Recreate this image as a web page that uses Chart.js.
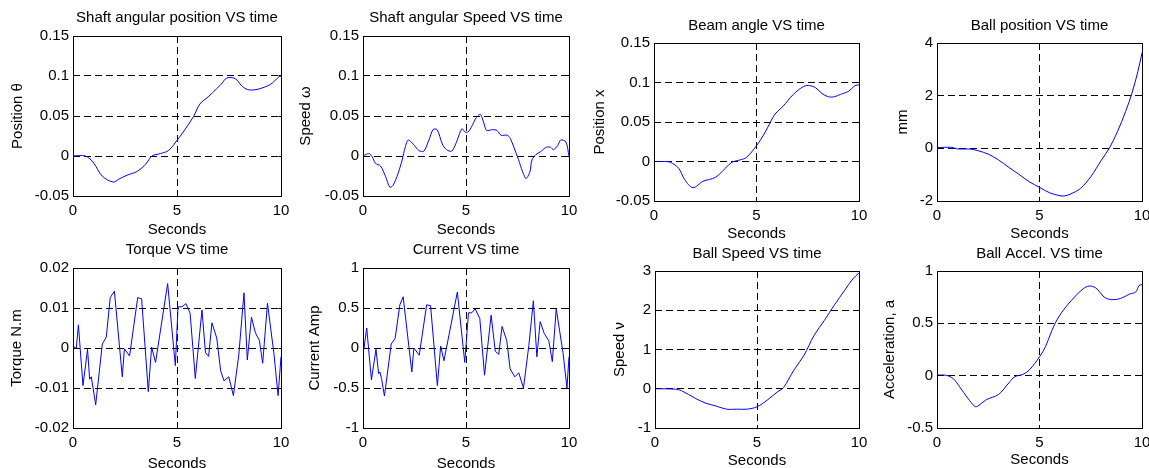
<!DOCTYPE html>
<html>
<head>
<meta charset="utf-8">
<script src="https://cdn.jsdelivr.net/npm/chart.js@4/dist/chart.umd.min.js"></script>
<style>
  html, body { margin: 0; padding: 0; background: #fff; overflow: hidden; }
  body { position: relative; width: 1149px; height: 468px; }
  canvas { position: absolute; }
</style>
</head>
<body>
<script>
// ---- data ----
const shaftPosT = [0, 0.6, 1.0, 1.4, 1.93, 2.2, 2.6, 3.1, 3.5, 3.8, 4.2, 4.6, 5.0, 5.3, 5.8, 6.1, 6.5, 6.9, 7.1, 7.4, 7.8, 8.1, 8.4, 8.8, 9.2, 9.5, 9.7, 9.9, 10];
const shaftPos = [0, 0, -0.009, -0.025, -0.0325, -0.029, -0.024, -0.019, -0.01, 0, 0.003, 0.007, 0.0196, 0.03, 0.0496, 0.065, 0.074, 0.084, 0.089, 0.0975, 0.0967, 0.088, 0.083, 0.083, 0.086, 0.0896, 0.094, 0.099, 0.1];

const shaftSpeedT = [0, 0.15, 0.3, 0.45, 0.6, 0.85, 1.1, 1.3, 1.45, 1.7, 1.9, 2.05, 2.2, 2.5, 2.7, 2.95, 3.2, 3.4, 3.6, 3.85, 4.05, 4.3, 4.5, 4.8, 4.95, 5.1, 5.3, 5.5, 5.7, 5.85, 6.0, 6.3, 6.5, 6.7, 7.0, 7.15, 7.5, 7.9, 8.1, 8.2, 8.4, 8.6, 8.9, 9.1, 9.25, 9.45, 9.6, 9.85, 10];
const shaftSpeed = [0, 0.002, 0.003, -0.001, -0.009, -0.0125, -0.026, -0.039, -0.037, -0.022, -0.005, 0.011, 0.02, 0.013, 0.007, 0.006, 0.02, 0.033, 0.033, 0.015, 0.008, 0.006, 0.015, 0.034, 0.03, 0.03, 0.038, 0.048, 0.052, 0.0425, 0.032, 0.033, 0.032, 0.026, 0.026, 0.022, -0.001, -0.028, -0.02, -0.005, 0.002, 0.005, 0.011, 0.011, 0.008, 0.013, 0.02, 0.0175, 0];

const beamT = [0, 0.5, 0.8, 1.2, 1.5, 1.9, 2.4, 3.0, 3.5, 3.8, 4.2, 4.5, 5.0, 5.4, 5.7, 5.9, 6.3, 6.8, 7.3, 7.6, 7.9, 8.2, 8.5, 8.8, 9.1, 9.5, 9.8, 10];
const beamAngle = [0, 0, -0.001, -0.0085, -0.023, -0.033, -0.025, -0.02, -0.008, -0.001, 0.002, 0.005, 0.02, 0.036, 0.051, 0.06, 0.07, 0.085, 0.095, 0.096, 0.093, 0.086, 0.082, 0.082, 0.085, 0.089, 0.096, 0.097];

const ballPosT = [0, 0.7, 1.0, 1.6, 2.0, 2.5, 3.0, 3.5, 4.0, 4.5, 5.0, 5.5, 6.0, 6.2, 6.5, 7.0, 7.5, 8.0, 8.4, 8.8, 9.2, 9.5, 9.8, 10];
const ballPos = [0.025, 0.04, -0.025, -0.025, -0.09, -0.22, -0.44, -0.72, -0.99, -1.27, -1.48, -1.69, -1.8, -1.81, -1.74, -1.52, -1.08, -0.47, 0, 0.63, 1.4, 2.07, 2.92, 3.62];

const torqueT = [0, 0.06, 0.16, 0.26, 0.48, 0.7, 0.8, 0.88, 1.09, 1.41, 1.6, 1.79, 1.99, 2.37, 2.47, 2.72, 3.11, 3.3, 3.62, 3.78, 3.97, 4.55, 4.92, 5.05, 5.24, 5.43, 5.63, 5.88, 6.2, 6.37, 6.52, 6.68, 6.91, 7.1, 7.26, 7.49, 7.71, 7.97, 8.22, 8.38, 8.58, 8.77, 8.96, 9.12, 9.35, 9.66, 9.86, 10];
const torque = [0.001, 0, 0, 0.0058, -0.0094, -0.0003, -0.0078, -0.0072, -0.0142, 0.001, 0.0027, 0.0126, 0.0142, -0.0072, -0.0002, -0.002, 0.0126, 0.0123, -0.0109, 0.0002, -0.0036, 0.0161, -0.0044, 0.0103, 0.0103, 0.0111, 0.0087, -0.0076, 0.0095, -0.0012, -0.0021, 0.0063, 0.0025, -0.0057, -0.0082, -0.0072, -0.0119, -0.0018, 0.0138, -0.003, 0.0077, 0.0038, 0.0019, -0.0038, 0.0112, -0.0014, -0.0119, -0.0022];

const currentT = [0, 0.05, 0.18, 0.41, 0.63, 0.76, 0.82, 0.9, 1.04, 1.37, 1.56, 1.79, 1.95, 2.37, 2.47, 2.73, 3.09, 3.28, 3.61, 3.77, 3.93, 4.58, 4.94, 5.12, 5.28, 5.44, 5.67, 5.9, 6.22, 6.42, 6.59, 6.75, 6.98, 7.14, 7.37, 7.56, 7.79, 8.05, 8.27, 8.44, 8.6, 8.8, 9.02, 9.19, 9.38, 9.71, 9.9, 10];
const current = [0.04, 0, 0.25, -0.4, -0.016, -0.32, -0.3, -0.38, -0.6, 0.05, 0.12, 0.54, 0.64, -0.3, 0, -0.09, 0.54, 0.53, -0.47, 0.025, -0.16, 0.7, -0.18, 0.44, 0.44, 0.49, 0.37, -0.34, 0.41, -0.04, -0.08, 0.27, 0.09, -0.26, -0.36, -0.31, -0.5, 0.03, 0.59, -0.11, 0.33, 0.18, 0.09, -0.17, 0.49, -0.06, -0.5, -0.11];

const ballSpeedT = [0, 1.0, 1.3, 2.0, 2.5, 3.0, 3.5, 4.0, 4.5, 5.0, 5.5, 6.0, 6.3, 6.8, 7.3, 7.8, 8.3, 8.8, 9.3, 9.7, 10];
const ballSpeed = [0, -0.01, -0.05, -0.25, -0.37, -0.44, -0.52, -0.52, -0.52, -0.46, -0.29, -0.08, 0.03, 0.47, 0.85, 1.36, 1.74, 2.14, 2.51, 2.8, 2.95];

const ballAccT = [0, 0.45, 0.8, 1.1, 1.5, 1.85, 2.0, 2.4, 3.0, 3.5, 3.8, 4.2, 4.5, 5.0, 5.3, 5.6, 5.9, 6.3, 6.8, 7.2, 7.5, 7.8, 8.1, 8.4, 8.8, 9.1, 9.4, 9.7, 9.85, 10];
const ballAcc = [0.006, 0.003, -0.03, -0.105, -0.215, -0.295, -0.29, -0.23, -0.18, -0.07, -0.01, 0.013, 0.054, 0.18, 0.28, 0.43, 0.55, 0.66, 0.77, 0.84, 0.856, 0.83, 0.76, 0.73, 0.73, 0.75, 0.78, 0.8, 0.86, 0.87];

const titles = ['Shaft angular position VS time', 'Shaft angular Speed VS time', 'Beam angle VS time', 'Ball position VS time',
                'Torque VS time', 'Current VS time', 'Ball Speed VS time', 'Ball Accel. VS time'];
const yLabels = ['Position \u03b8', 'Speed \u03c9', 'Position x', 'mm', 'Torque N.m', 'Current Amp', 'Speed \u03bd', 'Acceleration, a'];
const yRanges = [[-0.05, 0.15, 0.05], [-0.05, 0.15, 0.05], [-0.05, 0.15, 0.05], [-2, 4, 2],
                 [-0.02, 0.02, 0.01], [-1, 1, 0.5], [-1, 3, 1], [-0.5, 1, 0.5]];
const xLabel = 'Seconds';

// ---- layout of each subplot: plot box, title / label centres ----
const boxes = [
    { l: 73,  t: 36,  r: 281,  b: 196, titleY: 18,  ylabX: 18,  xlabY: 230 },
    { l: 363, t: 36,  r: 569,  b: 196, titleY: 18,  ylabX: 306, xlabY: 230 },
    { l: 654, t: 43,  r: 859,  b: 201, titleY: 26,  ylabX: 600, xlabY: 234 },
    { l: 937, t: 43,  r: 1142, b: 201, titleY: 26,  ylabX: 903, xlabY: 234 },
    { l: 73,  t: 268, r: 281,  b: 428, titleY: 250, ylabX: 17,  xlabY: 464 },
    { l: 363, t: 268, r: 569,  b: 428, titleY: 250, ylabX: 315, xlabY: 464 },
    { l: 655, t: 271, r: 859,  b: 428, titleY: 254, ylabX: 620, xlabY: 461 },
    { l: 937, t: 271, r: 1142, b: 428, titleY: 254, ylabX: 890, xlabY: 460 }
];

const series = [
    [shaftPosT, shaftPos, 0.35], [shaftSpeedT, shaftSpeed, 0.3], [beamT, beamAngle, 0.35], [ballPosT, ballPos, 0.35],
    [torqueT, torque, 0], [currentT, current, 0], [ballSpeedT, ballSpeed, 0.35], [ballAccT, ballAcc, 0.35]
];

const FONT = { family: '"Liberation Sans", Arial, Helvetica, sans-serif', size: 15, weight: 'normal' };
const LH = FONT.size * 1.2;

// MATLAB style: solid box round the axes, small inward ticks
const al = p => Math.round(p - 0.5) + 0.5;
const frameBox = {
    id: 'frameBox',
    afterDraw(chart) {
        const { ctx, chartArea: a, scales } = chart;
        const l = al(a.left), r = al(a.right), t = al(a.top), b = al(a.bottom);
        ctx.save();
        ctx.setLineDash([]);
        ctx.strokeStyle = '#000';
        ctx.lineWidth = 1;
        ctx.beginPath();
        scales.x.ticks.forEach(tk => {
            const px = al(scales.x.getPixelForValue(tk.value));
            ctx.moveTo(px, b); ctx.lineTo(px, b - 3);
            ctx.moveTo(px, t); ctx.lineTo(px, t + 3);
        });
        scales.y.ticks.forEach(tk => {
            const py = al(scales.y.getPixelForValue(tk.value));
            ctx.moveTo(l, py); ctx.lineTo(l + 3, py);
            ctx.moveTo(r, py); ctx.lineTo(r - 3, py);
        });
        ctx.stroke();
        ctx.strokeRect(l, t, r - l, b - t);
        ctx.restore();
    }
};

boxes.forEach((bx, i) => {
    const cLeft = Math.round(bx.ylabX - LH / 2);
    const cTop = Math.round(bx.titleY - LH / 2);
    const cBottom = Math.round(bx.xlabY + LH / 2);
    const padR = 24;
    const w = bx.r + padR - cLeft;
    const h = cBottom - cTop;
    const yW = bx.l - cLeft;
    const xH = cBottom - bx.b;
    const titlePadB = bx.t - cTop - LH;

    const canvas = document.createElement('canvas');
    canvas.width = w; canvas.height = h;
    canvas.style.left = cLeft + 'px';
    canvas.style.top = cTop + 'px';
    canvas.style.width = w + 'px';
    canvas.style.height = h + 'px';
    document.body.appendChild(canvas);

    const [ts, vs, tension] = series[i];
    const [yMin, yMax, yStep] = yRanges[i];

    new Chart(canvas, {
        type: 'line',
        data: {
            datasets: [{
                data: ts.map((t, k) => ({ x: t, y: vs[k] })),
                borderColor: '#0000ff',
                borderWidth: 1,
                pointRadius: 0,
                tension: tension,
                fill: false
            }]
        },
        options: {
            responsive: false,
            animation: false,
            events: [],
            layout: { padding: { left: 0, top: 0, right: padR, bottom: 0 } },
            plugins: {
                legend: { display: false },
                tooltip: { enabled: false },
                title: {
                    display: true,
                    fullSize: false,
                    text: titles[i],
                    color: '#000',
                    font: FONT,
                    padding: { top: 0, bottom: titlePadB }
                }
            },
            scales: {
                x: {
                    type: 'linear',
                    min: 0, max: 10,
                    afterFit: s => { s.height = xH; },
                    ticks: { stepSize: 5, color: '#000', font: FONT, padding: 6, maxRotation: 0 },
                    grid: { color: '#000', lineWidth: 1, drawTicks: false },
                    border: { display: false, dash: [7, 4] },
                    title: { display: true, text: xLabel, color: '#000', font: FONT, padding: 0 }
                },
                y: {
                    type: 'linear',
                    min: yMin, max: yMax,
                    afterFit: s => { s.width = yW; },
                    ticks: {
                        stepSize: yStep, color: '#000', font: FONT, padding: 4,
                        callback: v => String(+v.toFixed(4))
                    },
                    grid: { color: '#000', lineWidth: 1, drawTicks: false },
                    border: { display: false, dash: [7, 4] },
                    title: { display: true, text: yLabels[i], color: '#000', font: FONT, padding: 0 }
                }
            }
        },
        plugins: [frameBox]
    });
});
</script>
</body>
</html>
